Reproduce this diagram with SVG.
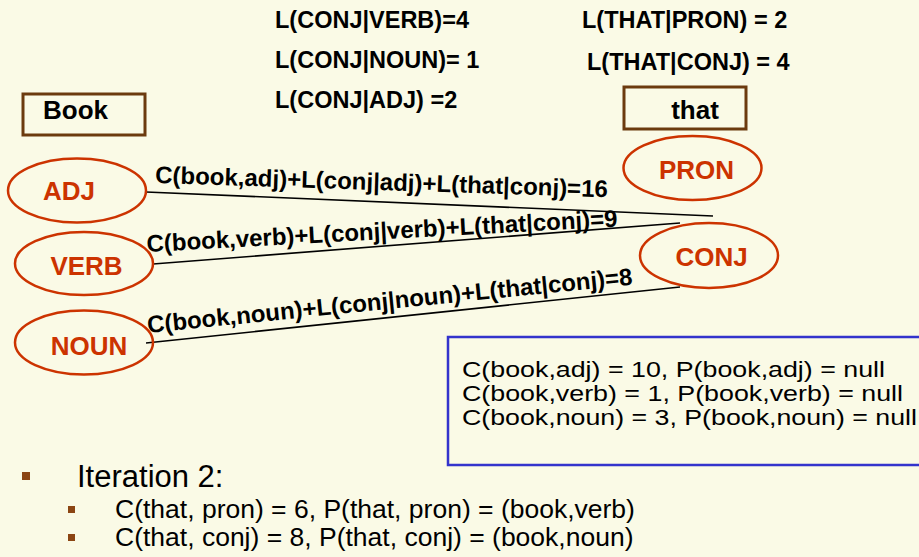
<svg xmlns="http://www.w3.org/2000/svg" width="919" height="557" viewBox="0 0 919 557">
  <style>
    .bg { fill: #FAFAE6; }
    .word { fill: none; stroke: #6B3A0E; stroke-width: 3; }
    .word-t { font-family: "Liberation Sans", Arial, sans-serif; font-weight: bold; font-size: 26px; fill: #000; text-anchor: middle; }
    .tag { fill: none; stroke: #CC3300; stroke-width: 2.5; }
    .tag-t { font-family: "Liberation Sans", Arial, sans-serif; font-weight: bold; font-size: 26px; fill: #CC3300; text-anchor: middle; }
    .edge { stroke: #000; stroke-width: 1.6; fill: none; }
    .edge-t { font-family: "Liberation Sans", Arial, sans-serif; font-weight: bold; font-size: 24px; fill: #000; }
    .prob { font-family: "Liberation Sans", Arial, sans-serif; font-weight: bold; font-size: 23.5px; fill: #000; }
    .note { fill: none; stroke: #3333CC; stroke-width: 2.5; }
    .note-t { font-family: "Liberation Sans", Arial, sans-serif; font-size: 22.5px; fill: #000; }
    .bullet { fill: #8B4513; }
    .list-t { font-family: "Liberation Sans", Arial, sans-serif; fill: #000; }
  </style>

  <rect class="bg" x="0" y="0" width="919" height="557"/>

  <!-- transition / emission scores -->
  <g id="scores">
    <text class="prob" x="275" y="28">L(CONJ|VERB)=4</text>
    <text class="prob" x="275" y="68">L(CONJ|NOUN)= 1</text>
    <text class="prob" x="275" y="108">L(CONJ|ADJ) =2</text>
    <text class="prob" x="582" y="28">L(THAT|PRON) = 2</text>
    <text class="prob" x="587" y="70">L(THAT|CONJ) = 4</text>
  </g>

  <!-- words -->
  <g id="word-book">
    <rect class="word" x="23" y="94" width="122" height="41"/>
    <text class="word-t" x="75.5" y="119">Book</text>
  </g>
  <g id="word-that">
    <rect class="word" x="624" y="87" width="122" height="42"/>
    <text class="word-t" x="695" y="119">that</text>
  </g>

  <!-- connectors -->
  <g id="connectors">
    <line class="edge" x1="146" y1="192" x2="713" y2="216"/>
    <line class="edge" x1="153" y1="264" x2="680" y2="223"/>
    <line class="edge" x1="146" y1="343" x2="680" y2="287"/>
    <text class="edge-t" transform="translate(155,183) rotate(1.8)">C(book,adj)+L(conj|adj)+L(that|conj)=16</text>
    <text class="edge-t" transform="translate(147,252) rotate(-3.1)">C(book,verb)+L(conj|verb)+L(that|conj)=9</text>
    <text class="edge-t" transform="translate(148,333) rotate(-5.7)">C(book,noun)+L(conj|noun)+L(that|conj)=8</text>
  </g>

  <!-- tags for "Book" -->
  <g id="tag-adj">
    <ellipse class="tag" cx="77" cy="190.5" rx="69" ry="32"/>
    <text class="tag-t" x="69" y="200">ADJ</text>
  </g>
  <g id="tag-verb">
    <ellipse class="tag" cx="84" cy="263.5" rx="69" ry="31.5"/>
    <text class="tag-t" x="86.5" y="275">VERB</text>
  </g>
  <g id="tag-noun">
    <ellipse class="tag" cx="84" cy="342.5" rx="69" ry="32"/>
    <text class="tag-t" x="89" y="355">NOUN</text>
  </g>

  <!-- tags for "that" -->
  <g id="tag-pron">
    <ellipse class="tag" cx="692.5" cy="168" rx="69" ry="32"/>
    <text class="tag-t" x="696.5" y="179">PRON</text>
  </g>
  <g id="tag-conj">
    <ellipse class="tag" cx="709" cy="255.5" rx="69" ry="32.5"/>
    <text class="tag-t" x="711.5" y="266">CONJ</text>
  </g>

  <!-- iteration 1 scores -->
  <g id="iteration-1">
    <rect class="note" x="448" y="337" width="480" height="128"/>
    <text class="note-t" x="462" y="377" textLength="423" lengthAdjust="spacingAndGlyphs">C(book,adj) = 10, P(book,adj) = null</text>
    <text class="note-t" x="462" y="401" textLength="441" lengthAdjust="spacingAndGlyphs">C(book,verb) = 1, P(book,verb) = null</text>
    <text class="note-t" x="462" y="425" textLength="455" lengthAdjust="spacingAndGlyphs">C(book,noun) = 3, P(book,noun) = null</text>
  </g>

  <!-- iteration 2 list -->
  <g id="iteration-2">
    <rect class="bullet" x="22" y="472" width="8" height="8"/>
    <text class="list-t" x="77" y="487" font-size="31">Iteration 2:</text>
    <rect class="bullet" x="68" y="506" width="7" height="7"/>
    <text class="list-t" x="115" y="518" font-size="26.5">C(that, pron) = 6, P(that, pron) = (book,verb)</text>
    <rect class="bullet" x="68" y="534" width="7" height="7"/>
    <text class="list-t" x="115" y="546" font-size="26.5">C(that, conj) = 8, P(that, conj) = (book,noun)</text>
  </g>
</svg>
